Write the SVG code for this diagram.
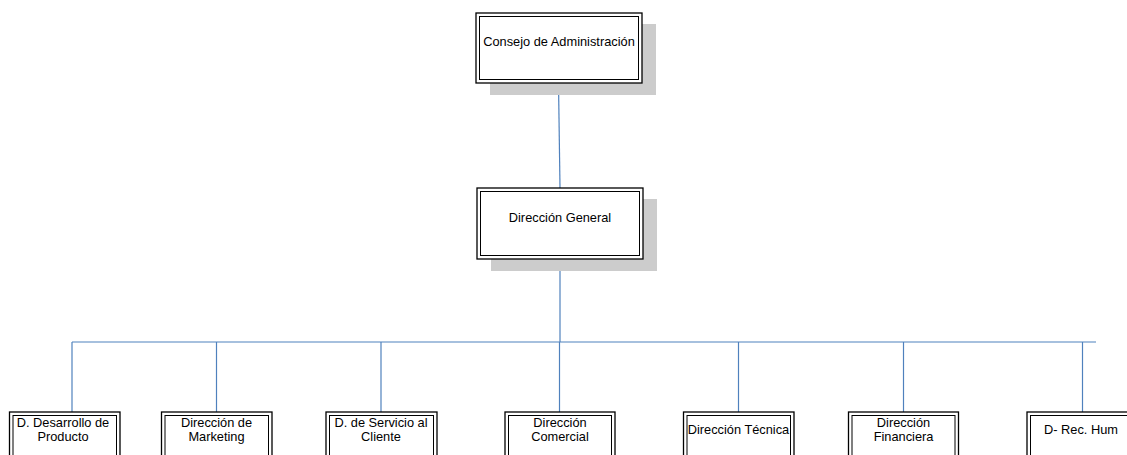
<svg xmlns="http://www.w3.org/2000/svg" width="1127" height="455" viewBox="0 0 1127 455">
<style>
.sh{fill:#cccccc;stroke:none}
.o{fill:#ffffff;stroke:#000;stroke-width:1.3}
.i{fill:none;stroke:#000;stroke-width:1}
.t{font-family:"Liberation Sans",Arial,sans-serif;font-size:12.8px;fill:#000;text-anchor:middle}
.c{stroke:#4f81bd;stroke-width:1.2;fill:none}
</style>
<rect width="1127" height="455" fill="#fff"/>
<g id="connectors">
<line class="c" x1="558.5" y1="83" x2="560" y2="188"/>
<line class="c" x1="560" y1="259" x2="560" y2="342"/>
<line class="c" x1="72" y1="342" x2="1096" y2="342"/>
<line class="c" x1="72" y1="342" x2="72" y2="412"/>
<line class="c" x1="216.5" y1="342" x2="216.5" y2="412"/>
<line class="c" x1="381" y1="342" x2="381" y2="412"/>
<line class="c" x1="559.5" y1="342" x2="559.5" y2="412"/>
<line class="c" x1="738.5" y1="342" x2="738.5" y2="412"/>
<line class="c" x1="903.5" y1="342" x2="903.5" y2="412"/>
<line class="c" x1="1082.5" y1="342" x2="1082.5" y2="412"/>
</g>
<g id="consejo">
<rect class="sh" x="490" y="24" width="166" height="71"/>
<rect class="o" x="476" y="13" width="166" height="70"/>
<rect class="i" x="479.5" y="16.5" width="159" height="63"/>
<text class="t" x="559" y="45.5">Consejo de Administración</text>
</g>
<g id="direccion-general">
<rect class="sh" x="491" y="199" width="166" height="72"/>
<rect class="o" x="477" y="188" width="166" height="71"/>
<rect class="i" x="480.5" y="191.5" width="159" height="64"/>
<text class="t" x="560" y="221.5">Dirección General</text>
</g>
<g id="d-desarrollo">
<rect class="o" x="9.5" y="412" width="110.5" height="60"/>
<rect class="i" x="13" y="415.5" width="103.5" height="60"/>
<text class="t" x="63" y="427.3">D. Desarrollo de</text>
<text class="t" x="63" y="440.5">Producto</text>
</g>
<g id="d-marketing">
<rect class="o" x="161.5" y="412" width="110.5" height="60"/>
<rect class="i" x="165" y="415.5" width="103.5" height="60"/>
<text class="t" x="216.5" y="427.3">Dirección de</text>
<text class="t" x="216.5" y="440.5">Marketing</text>
</g>
<g id="d-servicio">
<rect class="o" x="326" y="412" width="111" height="60"/>
<rect class="i" x="329.5" y="415.5" width="104" height="60"/>
<text class="t" x="381" y="427.3">D. de Servicio al</text>
<text class="t" x="381" y="440.5">Cliente</text>
</g>
<g id="d-comercial">
<rect class="o" x="505" y="412" width="110" height="60"/>
<rect class="i" x="508.5" y="415.5" width="103" height="60"/>
<text class="t" x="560" y="427.3">Dirección</text>
<text class="t" x="560" y="440.5">Comercial</text>
</g>
<g id="d-tecnica">
<rect class="o" x="683.5" y="412" width="110.5" height="60"/>
<rect class="i" x="687" y="415.5" width="103.5" height="60"/>
<text class="t" x="738.5" y="433.5">Dirección Técnica</text>
</g>
<g id="d-financiera">
<rect class="o" x="848.5" y="412" width="110" height="60"/>
<rect class="i" x="852" y="415.5" width="103" height="60"/>
<text class="t" x="903.5" y="427.3">Dirección</text>
<text class="t" x="903.5" y="440.5">Financiera</text>
</g>
<g id="d-rec-hum">
<rect class="o" x="1027" y="412" width="110" height="60"/>
<rect class="i" x="1030.5" y="415.5" width="103" height="60"/>
<text class="t" x="1081" y="433.5">D- Rec. Hum</text>
</g>
</svg>
